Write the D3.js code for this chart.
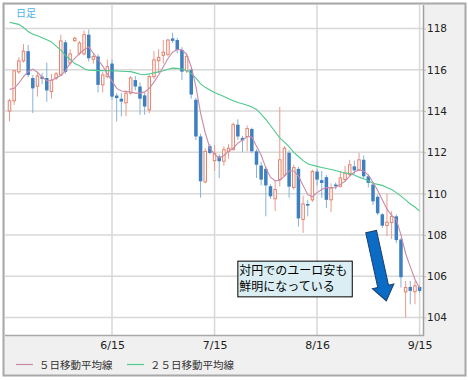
<!DOCTYPE html>
<html>
<head>
<meta charset="utf-8">
<script src="https://cdn.jsdelivr.net/npm/d3@7"></script>
<style>
  body { margin: 0; background: #fff; }
  svg text { font-family: "DejaVu Sans", Verdana, sans-serif; }
  .jp { font-family: "Noto Sans CJK JP", sans-serif; }
</style>
</head>
<body>
<svg id="chart" width="468" height="380"></svg>
<script>
// EUR/JPY daily candles, one entry per trading day (index based)
const open = [114.0,114.5,115.9,116.43,116.9,115.6,115.2,115.67,115.6,114.95,
  115.6,115.75,117.33,116.33,117.41,116.8,116.77,117.7,116.51,116.64,
  115.27,115.67,116.3,114.75,114.6,114.4,114.87,115.5,115.19,114.76,
  114.06,115.67,116.44,116.7,116.75,117.52,117.44,116.96,115.95,116.0,
  114.55,112.77,110.57,112.3,111.6,111.8,111.57,112.05,112.13,113.34,
  112.7,112.77,113.13,112.05,111.36,111.2,110.36,109.75,110.68,110.9,
  111.98,110.3,111.2,108.75,109.5,109.7,111.07,110.65,110.8,109.7,
  110.44,110.36,110.68,110.92,111.32,111.16,111.64,110.84,110.44,109.85,
  109.0,108.46,108.6,108.9,107.78,105.24,105.48,105.25,105.48];
const high = [114.6,116.0,116.6,117.25,117.2,115.75,115.9,115.85,116.35,115.8,
  115.9,117.7,117.45,117.0,117.6,117.4,117.9,117.95,116.8,116.75,
  115.9,116.5,116.5,114.87,114.87,115.0,115.7,115.7,115.4,114.9,
  115.75,116.9,117.0,117.45,117.5,117.8,117.55,117.1,116.8,116.1,
  114.65,112.9,112.2,112.4,112.35,111.9,112.3,112.4,113.45,113.6,
  112.8,113.3,113.2,112.15,111.55,111.3,110.45,110.6,114.2,112.3,
  112.1,111.4,111.3,109.9,109.7,111.15,111.2,111.1,110.9,110.5,
  110.55,111.1,111.35,111.64,111.6,111.97,111.85,110.95,110.55,109.95,
  109.05,110.0,109.15,109.0,107.85,105.77,105.77,105.77,105.55];
const low = [113.5,114.3,115.8,116.35,115.65,113.9,114.7,115.3,114.45,114.6,
  115.5,115.7,115.8,116.2,117.35,116.7,116.7,116.4,116.3,114.9,
  114.9,115.6,114.55,113.5,113.74,113.75,114.8,115.0,113.82,113.82,
  113.9,115.55,115.85,116.3,116.65,117.3,116.8,115.5,115.85,114.6,
  112.6,109.8,110.5,111.9,111.1,110.75,111.35,111.7,112.1,112.6,
  112.0,112.05,111.95,110.76,110.4,108.9,109.75,109.15,110.35,110.8,
  109.8,110.2,108.4,108.1,108.9,109.6,110.4,109.8,109.3,109.1,
  110.2,110.3,110.6,110.85,110.95,111.1,110.75,110.3,109.45,108.95,
  108.35,107.94,107.8,107.6,105.45,104.0,104.64,104.64,105.2];
const close = [114.5,115.95,116.43,116.9,115.75,115.1,115.7,115.56,115.0,115.5,
  115.8,117.4,115.9,116.77,117.53,117.3,117.7,116.56,116.64,115.27,
  115.75,116.15,114.7,114.63,114.46,114.87,115.6,115.19,114.6,114.22,
  115.67,116.48,116.6,116.85,117.44,117.4,116.96,115.91,116.65,114.8,
  112.77,110.6,112.05,111.97,111.95,111.57,112.13,112.2,113.34,112.77,
  112.58,113.15,112.05,111.4,110.68,110.4,109.87,110.2,111.64,112.2,
  110.34,111.26,108.8,109.5,109.42,111.07,110.68,110.52,109.7,110.28,
  110.36,110.76,111.0,111.4,111.13,111.64,110.84,110.52,109.63,109.05,
  108.45,108.62,108.9,107.75,105.95,105.45,105.29,105.53,105.29];

// moving averages as drawn on the chart
const ma5 = [115.05,115.1,115.35,115.67,115.92,116.03,115.88,115.65,115.47,115.48,
  115.6,115.72,115.95,116.33,116.55,116.78,116.97,117.1,116.8,116.5,
  116.18,115.8,115.45,115.1,114.97,114.95,114.92,114.87,114.87,114.93,
  115.1,115.4,115.75,116.15,116.55,116.85,116.98,116.97,116.75,116.15,
  115.2,113.9,112.95,112.2,111.9,111.72,111.85,112.05,112.2,112.45,
  112.6,112.77,112.74,112.3,111.87,111.25,110.8,110.62,110.65,110.85,
  111.1,111.1,110.85,110.4,109.95,109.85,110.05,110.2,110.3,110.28,
  110.3,110.45,110.6,110.85,111.05,111.15,111.1,110.9,110.55,110.15,
  109.7,109.25,108.95,108.75,108.0,107.1,106.45,105.85,105.4];
const ma25 = [118.3,118.25,118.2,118.05,117.85,117.72,117.65,117.55,117.45,117.35,
  117.15,116.95,116.7,116.5,116.3,116.2,116.05,115.98,115.97,115.96,
  115.96,115.96,115.95,115.94,115.93,115.92,115.91,115.85,115.78,115.76,
  115.8,115.85,115.9,115.95,116.03,116.08,116.07,116.04,115.97,115.82,
  115.6,115.32,115.15,115.02,114.9,114.8,114.7,114.6,114.5,114.42,
  114.35,114.28,114.2,114.08,113.85,113.6,113.3,113.0,112.7,112.5,
  112.27,112.0,111.8,111.6,111.45,111.38,111.32,111.27,111.22,111.17,
  111.12,111.06,111.0,110.97,110.9,110.8,110.72,110.62,110.5,110.45,
  110.4,110.3,110.2,110.05,109.88,109.7,109.5,109.35,109.15];

const tickIdx = [22, 44, 66, 88];
const tickLabels = ["6/15", "7/15", "8/16", "9/15"];
const yTicks = [104, 106, 108, 110, 112, 114, 116, 118];
const legendNames = ["５日移動平均線", "２５日移動平均線"];
const noteLines = ["対円でのユーロ安も", "鮮明になっている"];

// layout
const W = 468, H = 380;
const plot = { left: 5, top: 5, right: 423, bottom: 335 };
const upColor = "#e4826d", upWick = "#e99b8b";
const downColor = "#3d7fbf", downWick = "#86b2d9";
const ma5Color = "#c98aa8", ma25Color = "#4fc98c";

const x = d3.scaleLinear().domain([0, 88]).range([9.5, 419.6]);
const y = d3.scaleLinear().domain([104, 118]).range([317.5, 28.5]);

const svg = d3.select("#chart");

// outer frame + grey panels
svg.append("rect")
  .attr("x", 3.5).attr("y", 3.5)
  .attr("width", 462).attr("height", 372)
  .attr("fill", "#f0f0f0")
  .attr("stroke", "#a8a8a8").attr("stroke-width", 2);
svg.append("rect")
  .attr("x", plot.left).attr("y", plot.top)
  .attr("width", plot.right - plot.left).attr("height", plot.bottom - plot.top)
  .attr("fill", "#fff");

svg.append("clipPath").attr("id", "clip")
  .append("rect")
  .attr("x", plot.left).attr("y", plot.top)
  .attr("width", plot.right - plot.left).attr("height", plot.bottom - plot.top);

// grid
const grid = svg.append("g").attr("clip-path", "url(#clip)");
grid.selectAll("line.h").data(yTicks).enter().append("line")
  .attr("x1", plot.left).attr("x2", plot.right)
  .attr("y1", d => y(d)).attr("y2", d => y(d))
  .attr("stroke", "#d8d8d8").attr("stroke-width", 1.5);
grid.selectAll("line.v").data(tickIdx).enter().append("line")
  .attr("x1", d => x(d)).attr("x2", d => x(d))
  .attr("y1", plot.top).attr("y2", plot.bottom)
  .attr("stroke", "#d8d8d8").attr("stroke-width", 1.5);

// "日足" label
svg.append("text")
  .attr("class", "jp")
  .attr("x", 16).attr("y", 17)
  .attr("font-size", 10)
  .attr("fill", "#4cb2ea")
  .text("日足");

const g = svg.append("g").attr("clip-path", "url(#clip)");

// candles
const idx = d3.range(open.length);
const candle = g.selectAll("g.candle").data(idx).enter().append("g");
candle.append("line")
  .attr("x1", i => x(i)).attr("x2", i => x(i))
  .attr("y1", i => y(high[i])).attr("y2", i => y(low[i]))
  .attr("stroke", i => close[i] >= open[i] ? upWick : downWick)
  .attr("stroke-width", 1);
candle.filter(i => close[i] < open[i]).append("rect")
  .attr("x", i => x(i) - 1.75).attr("width", 3.5)
  .attr("y", i => y(open[i]))
  .attr("height", i => Math.max(1, y(close[i]) - y(open[i])))
  .attr("fill", downColor);
candle.filter(i => close[i] >= open[i]).append("rect")
  .attr("x", i => x(i) - 1.25).attr("width", 2.5)
  .attr("y", i => y(close[i]))
  .attr("height", i => Math.max(1, y(open[i]) - y(close[i])))
  .attr("fill", "#fff")
  .attr("stroke", upColor).attr("stroke-width", 1);

// moving averages
const line = d3.line().x((d, i) => x(i)).y(d => y(d));
g.append("path").datum(ma25)
  .attr("d", line).attr("fill", "none")
  .attr("stroke", ma25Color).attr("stroke-width", 1.1);
g.append("path").datum(ma5)
  .attr("d", line).attr("fill", "none")
  .attr("stroke", ma5Color).attr("stroke-width", 1.1);

// annotation box
const box = { i0: 49, i1: 73.55, top: 106.73, bottom: 105.0 };
svg.append("rect")
  .attr("x", x(box.i0)).attr("y", y(box.top))
  .attr("width", x(box.i1) - x(box.i0)).attr("height", y(box.bottom) - y(box.top))
  .attr("fill", "#daeef3").attr("stroke", "#000").attr("stroke-width", 1);
svg.selectAll("text.note").data(noteLines).enter().append("text")
  .attr("class", "jp")
  .attr("x", x(box.i0) + 1.5)
  .attr("y", (d, i) => y(box.top) + 14 + i * 16)
  .attr("font-size", 12)
  .attr("fill", "#000")
  .text(d => d);

// arrow
const aFrom = [x(77.6), y(108.16)], aTo = [x(80.86), y(104.8)];
const dx = aTo[0] - aFrom[0], dy = aTo[1] - aFrom[1];
const L = Math.hypot(dx, dy);
const ang = -Math.atan2(dx, dy) * 180 / Math.PI;
const sw = 5.5, hw = 11, hl = 15;
svg.append("polygon")
  .attr("points", [[-sw, 0], [sw, 0], [sw, L - hl], [hw, L - hl], [0, L], [-hw, L - hl], [-sw, L - hl]].join(" "))
  .attr("transform", `translate(${aFrom[0]},${aFrom[1]}) rotate(${ang})`)
  .attr("fill", "#0a6cc4").attr("stroke", "#1d3f69").attr("stroke-width", 1);

// plot borders
svg.append("line")
  .attr("x1", plot.right + 0.5).attr("x2", plot.right + 0.5)
  .attr("y1", plot.top).attr("y2", plot.bottom + 1)
  .attr("stroke", "#a0a0a0").attr("stroke-width", 1.5);
svg.append("line")
  .attr("x1", plot.left).attr("x2", plot.right + 1)
  .attr("y1", plot.bottom + 0.5).attr("y2", plot.bottom + 0.5)
  .attr("stroke", "#a8a8a8").attr("stroke-width", 1.5);

// y axis on the right
const yAxis = d3.axisRight(y).tickValues(yTicks).tickSize(2).tickPadding(1);
const ya = svg.append("g")
  .attr("transform", `translate(${plot.right + 1},0)`)
  .call(yAxis);
ya.select(".domain").remove();
ya.selectAll("line").attr("stroke", "#bbb");
ya.selectAll("text").attr("font-size", 10.5).attr("fill", "#222")
  .style("font-family", "'DejaVu Sans', Verdana, sans-serif");

// x axis
const xAxis = d3.axisBottom(x).tickValues(tickIdx)
  .tickFormat((d, i) => tickLabels[i]).tickSize(0).tickPadding(6.5);
const xa = svg.append("g")
  .attr("transform", `translate(0,${plot.bottom})`)
  .call(xAxis);
xa.select(".domain").remove();
xa.selectAll("text").attr("font-size", 11).attr("fill", "#222")
  .style("font-family", "'DejaVu Sans', Verdana, sans-serif");

// legend
const legend = [
  { name: legendNames[0], color: ma5Color, x: 16 },
  { name: legendNames[1], color: ma25Color, x: 127 }
];
const lg = svg.append("g");
lg.selectAll("line").data(legend).enter().append("line")
  .attr("x1", d => d.x).attr("x2", d => d.x + 17)
  .attr("y1", 364.5).attr("y2", 364.5)
  .attr("stroke", d => d.color).attr("stroke-width", 1.2);
lg.selectAll("text").data(legend).enter().append("text")
  .attr("class", "jp")
  .attr("x", d => d.x + 23).attr("y", 368.5)
  .attr("font-size", 10.5)
  .attr("fill", "#333")
  .text(d => d.name);
</script>
</body>
</html>
